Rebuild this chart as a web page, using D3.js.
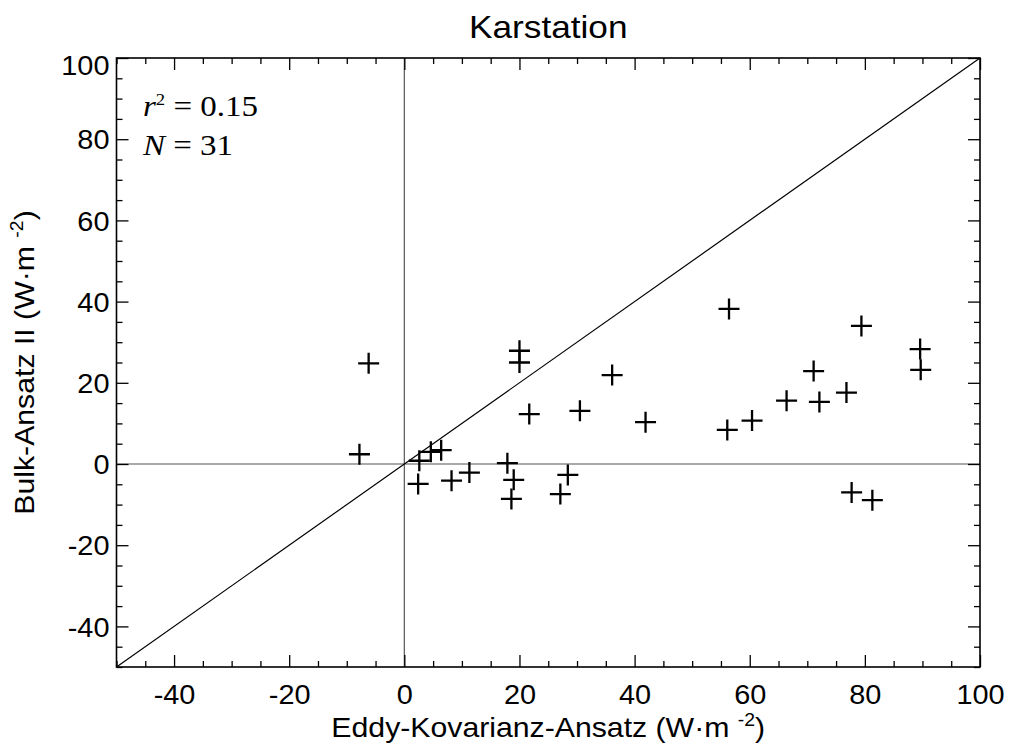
<!doctype html>
<html lang="de">
  <head>
    <meta charset="utf-8">
    <title>Karstation</title>
    <style>
      body { margin: 0; background: #fff; }
      .tick text { font: 27px "Liberation Sans", Arial, sans-serif; fill: #000; }
      .axis path { stroke: none; }
      .axis line { stroke: #000; stroke-width: 1.3px; }
      .frame { fill: none; stroke: #000; stroke-width: 1.6px; }
      .zero { stroke: #555; stroke-width: 1.2px; }
      .diag { stroke: #000; stroke-width: 1.2px; }
      .cross { stroke: #000; stroke-width: 2.3px; fill: none; }
      .title, .label { font-family: "Liberation Sans", Arial, sans-serif; fill: #000; }
      .stats { font-family: "Liberation Serif", "Times New Roman", serif; font-size: 30px; fill: #000; }
    </style>
  </head>
  <body>
    <div class="chart"></div>
  <script src="https://cdnjs.cloudflare.com/ajax/libs/d3/7.8.5/d3.min.js"></script>
  <script>
    // Eddy-Kovarianz (x) vs. Bulk-Ansatz II (y), W m-2
    const eddyValues = [-6.2, -7.8, 20.0, 20.0, 36.1, 21.7, 30.5, 6.4, 2.4, 8.2,
                        11.3, 17.9, 19.0, 18.6, 28.4, 27.1, 2.6, 4.6, 41.9, 56.4,
                        56.1, 60.4, 66.4, 71.1, 72.1, 76.8, 79.4, 89.6, 89.7, 77.7, 81.3];
    const bulkValues = [24.8, 2.4, 27.9, 25.0, 21.9, 12.3, 13.1, 3.4, -4.9, -4.1,
                        -2.1, 0.2, -3.9, -8.6, -2.7, -7.4, 0.8, 3.0, 10.3, 38.2,
                        8.4, 10.7, 15.6, 22.9, 15.3, 17.6, 34.0, 28.3, 23.2, -7.0, -8.9];
    const majorTicks = [-40, -20, 0, 20, 40, 60, 80, 100];
    const domain = [-50, 100];
    const stats = {r2: '0.15', n: '31'};

    const points = eddyValues.map((x, i) => ({x, y: bulkValues[i]}));

    const W = 1010, H = 745;
    const margin = {top: 58, right: 30, bottom: 78, left: 116.5};
    const width = W - margin.left - margin.right;
    const height = H - margin.top - margin.bottom;
    const stretch = 1.07;   // the original lettering is a bit wider than Arial

    const xScale = d3.scaleLinear().domain(domain).range([0, width]);
    const yScale = d3.scaleLinear().domain(domain).range([height, 0]);
    const minorTicks = d3.range(-50, 100.1, 5).filter(v => v % 20 !== 0 || v === -50);

    const svg = d3.select('.chart').append('svg')
        .attr('width', W)
        .attr('height', H);
    const g = svg.append('g')
        .attr('transform', `translate(${margin.left},${margin.top})`);

    // zero lines and 1:1 line
    g.append('line').attr('class', 'zero')
        .attr('x1', xScale(0)).attr('x2', xScale(0))
        .attr('y1', 0).attr('y2', height);
    g.append('line').attr('class', 'zero')
        .attr('x1', 0).attr('x2', width)
        .attr('y1', yScale(0)).attr('y2', yScale(0));
    g.append('line').attr('class', 'diag')
        .attr('x1', xScale(domain[0])).attr('y1', yScale(domain[0]))
        .attr('x2', xScale(domain[1])).attr('y2', yScale(domain[1]));

    // inward ticks on all four sides
    function ticks(axisFn, scale, values, size, transform, labels) {
      return g.append('g')
          .attr('class', 'axis')
          .attr('transform', transform)
          .call(axisFn(scale).tickValues(values).tickSizeInner(-size).tickSizeOuter(0)
            .tickFormat(labels ? (d => String(d)) : ''));
    }
    const xb = ticks(d3.axisBottom, xScale, majorTicks, 12, `translate(0,${height})`, true);
    ticks(d3.axisBottom, xScale, minorTicks, 6, `translate(0,${height})`, false);
    ticks(d3.axisTop, xScale, majorTicks, 12, 'translate(0,0)', false);
    ticks(d3.axisTop, xScale, minorTicks, 6, 'translate(0,0)', false);
    const yl = ticks(d3.axisLeft, yScale, majorTicks, 12, 'translate(0,0)', true);
    ticks(d3.axisLeft, yScale, minorTicks, 6, 'translate(0,0)', false);
    ticks(d3.axisRight, yScale, majorTicks, 12, `translate(${width},0)`, false);
    ticks(d3.axisRight, yScale, minorTicks, 6, `translate(${width},0)`, false);

    xb.selectAll('.tick text')
        .attr('x', null).attr('y', null).attr('dy', '0.71em')
        .attr('transform', `translate(0,18) scale(${stretch},1)`);
    yl.selectAll('.tick text')
        .attr('x', null).attr('dy', d => d === 100 ? '0.6em' : '0.36em')
        .attr('transform', `translate(-7,0) scale(${stretch},1)`);

    g.append('rect').attr('class', 'frame')
        .attr('width', width).attr('height', height);

    // crosses
    const half = 10.5;
    g.append('g').selectAll('path')
      .data(points)
      .join('path')
        .attr('class', 'cross')
        .attr('d', d => {
          const cx = xScale(d.x), cy = yScale(d.y);
          return `M${cx - half},${cy}H${cx + half}M${cx},${cy - half}V${cy + half}`;
        });

    // stats
    const st = g.append('text').attr('class', 'stats')
        .attr('transform', `translate(26.5,58) scale(1.1,1)`);
    st.append('tspan').attr('font-style', 'italic').text('r');
    st.append('tspan').attr('font-size', 17).attr('dy', -11).text('2');
    st.append('tspan').attr('dy', 11).text(' = ' + stats.r2);
    const sn = g.append('text').attr('class', 'stats')
        .attr('transform', `translate(26.5,97) scale(1.1,1)`);
    sn.append('tspan').attr('font-style', 'italic').text('N');
    sn.append('tspan').text(' = ' + stats.n);

    // title and axis labels
    svg.append('text').attr('class', 'title')
        .attr('transform', `translate(${margin.left + width / 2},38) scale(1.1,1)`)
        .attr('text-anchor', 'middle')
        .attr('font-size', 32)
        .text('Karstation');

    function unitLabel(sel, main) {
      sel.append('tspan').text(main + ' (W·m ');
      sel.append('tspan').attr('font-size', 18).attr('dy', -11).text('-2');
      sel.append('tspan').attr('dy', 11).text(')');
    }
    const xl = svg.append('text').attr('class', 'label')
        .attr('transform', `translate(${margin.left + width / 2},737) scale(1.08,1)`)
        .attr('text-anchor', 'middle')
        .attr('font-size', 28);
    unitLabel(xl, 'Eddy-Kovarianz-Ansatz');

    const ylab = svg.append('text').attr('class', 'label')
        .attr('transform', `translate(34,${margin.top + height / 2}) rotate(-90) scale(1.08,1)`)
        .attr('text-anchor', 'middle')
        .attr('font-size', 28);
    unitLabel(ylab, 'Bulk-Ansatz II');
  </script>
  </body>
</html>
